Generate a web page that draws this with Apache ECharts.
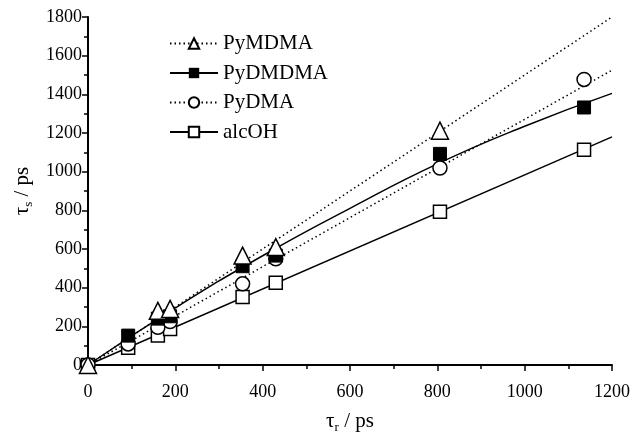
<!DOCTYPE html>
<html>
<head>
<meta charset="utf-8">
<script src="https://cdn.jsdelivr.net/npm/echarts@6/dist/echarts.min.js"></script>
<style>
  html, body { margin: 0; padding: 0; background: #fff; }
  #chart { width: 638px; height: 439px; }
</style>
</head>
<body>
<div id="chart"></div>
<script>
// measured points (tau_r, tau_s) in ps
const mdmaX = [0, 160, 188, 354, 430, 806];
const mdmaY = [0, 280, 290, 566, 610, 1212];
const dmdmaX = [92, 160, 188, 354, 430, 806, 1136];
const dmdmaY = [152, 240, 252, 511, 566, 1092, 1332];
const dmaX = [0, 92, 160, 188, 354, 430, 806, 1136];
const dmaY = [0, 109, 195, 225, 420, 549, 1019, 1477];
const alcX = [0, 92, 160, 188, 354, 430, 806, 1136];
const alcY = [0, 89, 152, 186, 352, 426, 793, 1113];

// fitted lines
const fitX = [0, 1200];
const mdmaFit = [0, 1800];
const dmaFit = [0, 1525];
const alcFit = [0, 1180];
const dmdmaCurveX = [0, 200, 400, 600, 800, 1000, 1200];
const dmdmaCurveY = [0, 295, 565, 810, 1040, 1235, 1405];

const zip = (xs, ys) => xs.map((x, i) => [x, ys[i]]);

const serif = '"Liberation Serif", "DejaVu Serif", serif';
const chart = echarts.init(document.getElementById('chart'));

const fitLine = (name, xs, ys, dashed, sym) => ({
  name: name,
  type: 'line',
  data: zip(xs, ys),
  smooth: xs.length > 2,
  symbol: sym,
  showSymbol: false,
  itemStyle: { color: '#000', opacity: 1 },
  lineStyle: { color: '#000', width: 1.5, type: dashed ? [1.5, 3] : 'solid' },
  emphasis: { disabled: true },
  z: 2
});

const pts = (name, xs, ys, sym, size, style) => ({
  name: name,
  type: 'scatter',
  data: zip(xs, ys),
  symbol: sym,
  symbolSize: size,
  itemStyle: style,
  emphasis: { disabled: true },
  z: 3
});

const openStyle = { color: '#fff', borderColor: '#000', borderWidth: 1.5, opacity: 1 };
const fillStyle = { color: '#000', borderColor: '#000', borderWidth: 1, opacity: 1 };

const axisName = () => ({
  rich: {
    a: { fontFamily: serif, fontSize: 21, color: '#000' },
    b: { fontFamily: serif, fontSize: 13, color: '#000', padding: [12, 0, 0, 0] }
  }
});

chart.setOption({
  animation: false,
  backgroundColor: '#fff',
  grid: { left: 88, right: 26, top: 17, bottom: 69 },
  legend: {
    orient: 'vertical',
    left: 164,
    top: 28,
    itemWidth: 48,
    itemHeight: 13,
    itemGap: 8.5,
    data: ['PyMDMA', 'PyDMDMA', 'PyDMA', 'alcOH'],
    textStyle: { fontFamily: serif, fontSize: 21, lineHeight: 20, color: '#000' }
  },
  xAxis: {
    type: 'value',
    min: 0,
    max: 1200,
    interval: 200,
    name: '{a|τ}{b|r}{a| / ps}',
    nameLocation: 'middle',
    nameGap: 44,
    nameTextStyle: axisName(),
    axisLine: { lineStyle: { color: '#000', width: 2 } },
    axisTick: { length: 6, lineStyle: { color: '#000', width: 1.5 } },
    minorTick: { show: true, splitNumber: 2, length: 4, lineStyle: { color: '#000', width: 1.5 } },
    axisLabel: { fontFamily: serif, fontSize: 18, color: '#000', margin: 18, formatter: (v) => String(v) },
    splitLine: { show: false }
  },
  yAxis: {
    type: 'value',
    min: 0,
    max: 1800,
    interval: 200,
    name: '{a|τ}{b|s}{a| / ps}',
    nameLocation: 'middle',
    nameGap: 48,
    nameTextStyle: axisName(),
    axisLine: { show: true, lineStyle: { color: '#000', width: 2 } },
    axisTick: { length: 6, lineStyle: { color: '#000', width: 1.5 } },
    minorTick: { show: true, splitNumber: 2, length: 4, lineStyle: { color: '#000', width: 1.5 } },
    axisLabel: { fontFamily: serif, fontSize: 18, color: '#000', margin: 6, formatter: (v) => String(v) },
    splitLine: { show: false }
  },
  series: [
    fitLine('PyMDMA', fitX, mdmaFit, true, 'emptyTriangle'),
    fitLine('PyDMDMA', dmdmaCurveX, dmdmaCurveY, false, 'rect'),
    fitLine('PyDMA', fitX, dmaFit, true, 'emptyCircle'),
    fitLine('alcOH', fitX, alcFit, false, 'emptyRect'),
    pts('alcOH', alcX, alcY, 'rect', 13, openStyle),
    pts('PyDMA', dmaX, dmaY, 'circle', 14, openStyle),
    pts('PyDMDMA', dmdmaX, dmdmaY, 'rect', 13, fillStyle),
    pts('PyMDMA', mdmaX, mdmaY, 'triangle', 17, openStyle)
  ]
});
</script>
</body>
</html>
